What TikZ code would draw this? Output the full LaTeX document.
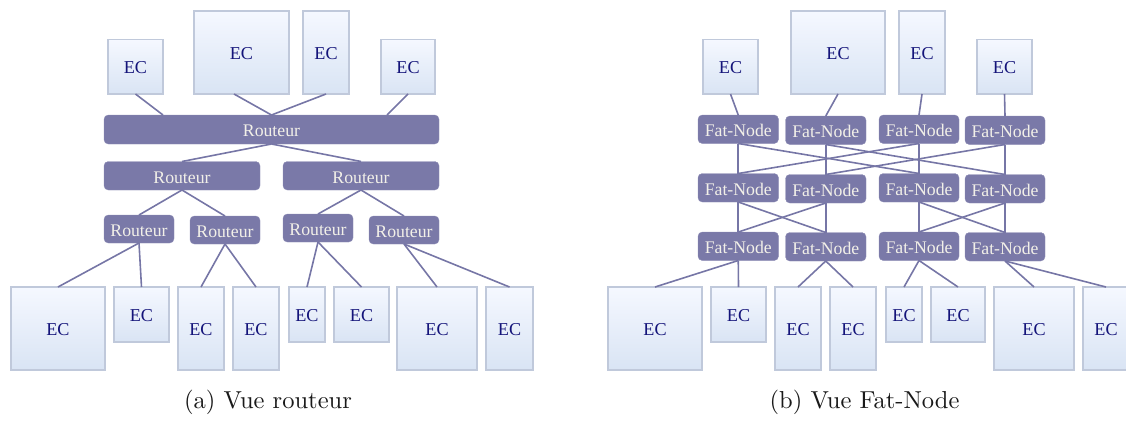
\documentclass[tikz,border=0pt]{standalone}
\usepackage{fontspec}
\newfontfamily\ecfont{Liberation Serif}
\newfontfamily\capfont{lmroman10-regular.otf}
\usetikzlibrary{shadows}
\definecolor{ecedge}{HTML}{C0C9DB}
\definecolor{ectop}{HTML}{F5F8FF}
\definecolor{ecbot}{HTML}{D9E4F4}
\definecolor{ecink}{HTML}{14147A}
\definecolor{rfill}{HTML}{7A79A8}
\definecolor{rink}{HTML}{F2F0E8}
\definecolor{linkc}{HTML}{7676A6}
\tikzset{
  ecbox/.style={draw=ecedge,line width=0.9pt,top color=ectop,bottom color=ecbot,text=ecink,inner sep=0pt,outer sep=0pt,
    font=\ecfont\fontsize{13.6}{13.6}\selectfont,execute at begin node={\def\mydrop{4.9pt}},
    drop shadow={shadow xshift=0.5pt,shadow yshift=-1.1pt,opacity=0.6,fill=black!50}},
  rbox/.style={fill=rfill,draw=rfill!85!white,line width=0.3pt,rounded corners=3.2pt,text=rink,inner sep=0pt,outer sep=0pt,
    font=\ecfont\fontsize{13.3}{13.3}\selectfont,execute at begin node={\def\mydrop{5.6pt}}},
  link/.style={draw=linkc,line width=1.2pt},
  captiontext/.style={font=\capfont\fontsize{18.4}{18.4}\selectfont,text=black!90,inner sep=0pt}
}
\newcommand{\mybox}[7]{%
  \pgfmathsetmacro{\mycx}{(#3+#5)/2}\pgfmathsetmacro{\mycy}{(#4+#6)/2}%
  \pgfmathsetmacro{\mywd}{(#5-#3)*0.75}\pgfmathsetmacro{\myht}{(#6-#4)*0.75}%
  \node[#1,minimum width=\mywd pt,minimum height=\myht pt] (#2) at (\mycx,\mycy) {\raisebox{-\mydrop}[0pt][0pt]{#7}};}
\begin{document}
\begin{tikzpicture}[x=0.75pt,y=-0.75pt]
\useasboundingbox (0,0) rectangle (1126,421);
\clip (0,0) rectangle (1126,421);
% left: top EC
\mybox{ecbox}{lt1}{108}{39.5}{163}{94}{EC}
\mybox{ecbox}{lt2}{194}{11}{289}{94}{EC}
\mybox{ecbox}{lt3}{303}{11}{349}{94}{EC}
\mybox{ecbox}{lt4}{381}{39.5}{435}{94}{EC}
% left: routers
\mybox{rbox}{r0}{104}{115}{439}{144}{Routeur}
\mybox{rbox}{r1}{104}{161.5}{260}{190}{Routeur}
\mybox{rbox}{r2}{283}{161.5}{439}{190}{Routeur}
\mybox{rbox}{s1}{104}{215}{174}{243}{Routeur}
\mybox{rbox}{s2}{190}{216}{260}{244}{Routeur}
\mybox{rbox}{s3}{283}{214}{353}{242}{Routeur}
\mybox{rbox}{s4}{369}{216}{439}{244}{Routeur}
% left: bottom EC
\mybox{ecbox}{lb1}{11}{287}{105}{370}{EC}
\mybox{ecbox}{lb2}{114}{287}{169}{342}{EC}
\mybox{ecbox}{lb3}{178}{287}{224}{370}{EC}
\mybox{ecbox}{lb4}{233}{287}{279}{370}{EC}
\mybox{ecbox}{lb5}{289}{287}{325}{342}{EC}
\mybox{ecbox}{lb6}{334}{287}{389}{342}{EC}
\mybox{ecbox}{lb7}{397}{287}{477}{370}{EC}
\mybox{ecbox}{lb8}{486}{287}{533}{370}{EC}
% right: top EC
\mybox{ecbox}{rt1}{703}{39.5}{758}{94}{EC}
\mybox{ecbox}{rt2}{791}{11}{885}{94}{EC}
\mybox{ecbox}{rt3}{899}{11}{945}{94}{EC}
\mybox{ecbox}{rt4}{977}{39.5}{1032}{94}{EC}
% right: fat nodes
\mybox{rbox}{fa1}{698}{115}{778.5}{143.5}{Fat-Node}
\mybox{rbox}{fa2}{785.5}{116}{866}{144.5}{Fat-Node}
\mybox{rbox}{fa3}{879}{115}{959}{143.5}{Fat-Node}
\mybox{rbox}{fa4}{965}{116}{1045}{144.5}{Fat-Node}
\mybox{rbox}{fb1}{698}{173.5}{778.5}{202}{Fat-Node}
\mybox{rbox}{fb2}{785.5}{174.5}{866}{203}{Fat-Node}
\mybox{rbox}{fb3}{879}{173.5}{959}{202}{Fat-Node}
\mybox{rbox}{fb4}{965}{174.5}{1045}{203}{Fat-Node}
\mybox{rbox}{fc1}{698}{232}{778.5}{260.5}{Fat-Node}
\mybox{rbox}{fc2}{785.5}{232.5}{866}{261}{Fat-Node}
\mybox{rbox}{fc3}{879}{232}{959}{260.5}{Fat-Node}
\mybox{rbox}{fc4}{965}{232.5}{1045}{261}{Fat-Node}
% right: bottom EC
\mybox{ecbox}{rb1}{608}{287}{702}{370}{EC}
\mybox{ecbox}{rb2}{711}{287}{766}{342}{EC}
\mybox{ecbox}{rb3}{775}{287}{821}{370}{EC}
\mybox{ecbox}{rb4}{830}{287}{876}{370}{EC}
\mybox{ecbox}{rb5}{886}{287}{922}{342}{EC}
\mybox{ecbox}{rb6}{931}{287}{985}{342}{EC}
\mybox{ecbox}{rb7}{994}{287}{1074}{370}{EC}
\mybox{ecbox}{rb8}{1083}{287}{1129}{370}{EC}
% free ends
\coordinate (q1) at (163,115);
\coordinate (q2) at (234,94);
\coordinate (q3) at (326,94);
\coordinate (q4) at (387,115);
\coordinate (q5) at (408,94);
% left links
\draw[link] (lt1.south) -- (q1);
\draw[link] (q2) -- (r0.north);
\draw[link] (q3) -- (r0.north);
\draw[link] (q5) -- (q4);
\draw[link] (r0.south) -- (r1.north);
\draw[link] (r0.south) -- (r2.north);
\draw[link] (r1.south) -- (s1.north);
\draw[link] (r1.south) -- (s2.north);
\draw[link] (r2.south) -- (s3.north);
\draw[link] (r2.south) -- (s4.north);
\draw[link] (s1.south) -- (lb1.north);
\draw[link] (s1.south) -- (lb2.north);
\draw[link] (s2.south) -- (lb3.north);
\draw[link] (s2.south) -- (lb4.north);
\draw[link] (s3.south) -- (lb5.north);
\draw[link] (s3.south) -- (lb6.north);
\draw[link] (s4.south) -- (lb7.north);
\draw[link] (s4.south) -- (lb8.north);
% right links
\draw[link] (rt1.south) -- (fa1.north);
\draw[link] (rt2.south) -- (fa2.north);
\draw[link] (rt3.south) -- (fa3.north);
\draw[link] (rt4.south) -- (fa4.north);
\foreach \i/\j in {1/1,1/3,2/2,2/4,3/1,3/3,4/2,4/4}{\draw[link] (fa\i.south) -- (fb\j.north);}
\foreach \i/\j in {1/1,1/2,2/1,2/2,3/3,3/4,4/3,4/4}{\draw[link] (fb\i.south) -- (fc\j.north);}
\draw[link] (fc1.south) -- (rb1.north);
\draw[link] (fc1.south) -- (rb2.north);
\draw[link] (fc2.south) -- (rb3.north);
\draw[link] (fc2.south) -- (rb4.north);
\draw[link] (fc3.south) -- (rb5.north);
\draw[link] (fc3.south) -- (rb6.north);
\draw[link] (fc4.south) -- (rb7.north);
\draw[link] (fc4.south) -- (rb8.north);
% captions
\node[captiontext] (capa) at (268,402.5) {(a) Vue routeur};
\node[captiontext] (capb) at (864.5,402.5) {(b) Vue Fat-Node};
\end{tikzpicture}
\end{document}
